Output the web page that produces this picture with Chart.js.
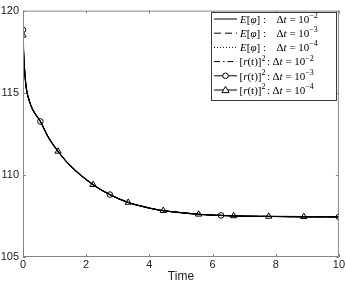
<!DOCTYPE html>
<html><head><meta charset="utf-8">
<script src="https://cdn.jsdelivr.net/npm/chart.js@4.4.1/dist/chart.umd.min.js"></script>
<style>html,body{margin:0;padding:0;background:#fff}#wrap{width:346px;height:285px}</style>
</head><body><div id="wrap"><canvas id="c"></canvas></div>
<script>
// ─── DATA ────────────────────────────────────────────────────
const tGrid=[0,0.02,0.05,0.1,0.2,0.3,0.55,0.8,1.11,1.5,2.22,2.75,3.33,4,4.44,5,5.56,6.27,6.67,7.78,8.89,10];
const energyVals=[118.8,117.4,116.4,115.35,114.5,114.0,113.25,112.3,111.43,110.55,109.4,108.8,108.32,107.98,107.82,107.7,107.6,107.53,107.5,107.47,107.45,107.44];
const circleT=[0,0.55,2.75,6.27,10];
const circleVals=[118.83,113.25,108.8,107.53,107.44];
const triT=[0,1.11,2.22,3.33,4.44,5.56,6.67,7.78,8.89];
const triVals=[118.5,111.43,109.4,108.32,107.82,107.6,107.5,107.47,107.45];
const xTicks=[0,2,4,6,8,10];
const yTicks=[105,110,115,120];
const xTitle='Time';
// legend rows: which quantity, exponent of the step
const legendNames=['E','E','E','r','r','r'];
const legendExp=['−2','−3','−4','−2','−3','−4'];

// ─── STYLE ───────────────────────────────────────────────────
const AX='#858585',TXT='#222',INK='#000';
const SANS='"Liberation Sans", Arial, sans-serif',SERIF='"Liberation Serif", "DejaVu Serif", serif';
const styles=[{d:[]},{d:[7,4]},{d:[1,2]},{d:[6,3,1.5,3]},{d:[],m:'circle'},{d:[],m:'triangle'}];

const pts=(xs,ys)=>xs.map((x,i)=>({x,y:ys[i]}));
const lineDs=(dash,w=1)=>({type:'line',data:pts(tGrid,energyVals),borderColor:INK,borderWidth:w,borderDash:dash,pointRadius:0,cubicInterpolationMode:'monotone',fill:false});

// ─── PLUGINS ─────────────────────────────────────────────────
// frame + inward ticks (MATLAB box on)
const frameTicks={id:'frameTicks',afterDatasetsDraw(chart){
  const {ctx,chartArea:a,scales:{x,y}}=chart;ctx.save();ctx.strokeStyle=AX;ctx.lineWidth=1;
  ctx.strokeRect(a.left+.5,a.top+.5,a.right-a.left-1,a.bottom-a.top-1);ctx.beginPath();
  xTicks.forEach(v=>{const p=Math.round(x.getPixelForValue(v))+.5;ctx.moveTo(p,a.bottom);ctx.lineTo(p,a.bottom-3);ctx.moveTo(p,a.top);ctx.lineTo(p,a.top+3)});
  yTicks.forEach(v=>{const p=Math.round(y.getPixelForValue(v))+.5;ctx.moveTo(a.left,p);ctx.lineTo(a.left+3,p);ctx.moveTo(a.right,p);ctx.lineTo(a.right-3,p)});
  ctx.stroke();ctx.restore()}};

function drawSegs(ctx,x,y,segs){segs.forEach(([t,s])=>{
  ctx.font=(s==='i'?'italic 11px ':s==='s'?'8px ':'11px ')+SERIF;ctx.fillText(t,x,s==='s'?y-4:y);x+=ctx.measureText(t).width});return x}
function marker(ctx,m,cx,cy){ctx.beginPath();
  if(m==='circle')ctx.arc(cx,cy,2.8,0,Math.PI*2);
  else{ctx.moveTo(cx,cy-3.6);ctx.lineTo(cx+3.6,cy+2.6);ctx.lineTo(cx-3.6,cy+2.6);ctx.closePath()}
  ctx.fillStyle='#fff';ctx.fill();ctx.stroke()}
const legendBox={id:'legendBox',afterDraw(chart){
  const ctx=chart.ctx;ctx.save();
  const L=211,T=12,W=125,H=88,dy=14.2,y0=19;
  ctx.fillStyle='#fff';ctx.fillRect(L,T,W,H);ctx.strokeStyle='#3a3a3a';ctx.lineWidth=1;ctx.strokeRect(L+.5,T+.5,W,H);
  legendNames.forEach((n,i)=>{const y=y0+i*dy,st=styles[i];
    ctx.strokeStyle=INK;ctx.setLineDash(st.d);ctx.beginPath();ctx.moveTo(214,y);ctx.lineTo(237,y);ctx.stroke();ctx.setLineDash([]);
    if(st.m)marker(ctx,st.m,225.5,y);
    ctx.fillStyle=INK;ctx.textBaseline='middle';ctx.textAlign='left';
    if(n==='E'){drawSegs(ctx,240,y+1,[['E','i'],['[','n'],['φ','i'],['] :','n']]);drawSegs(ctx,276.5,y+1,[['Δ','n'],['t','i'],[' = 10','n'],[legendExp[i],'s']])}
    else{const x=drawSegs(ctx,239.5,y+1,[['[','n'],['r','i'],['(t)]','n'],['2','s']]);drawSegs(ctx,x+1.5,y+1,[[':','n']]);drawSegs(ctx,272.5,y+1,[['Δ','n'],['t','i'],[' = 10','n'],[legendExp[i],'s']])}
  });
  ctx.restore()}};

// ─── CHART ───────────────────────────────────────────────────
new Chart(document.getElementById('c'),{
  data:{datasets:[
    lineDs([],1.3),lineDs([7,4]),lineDs([1,2]),lineDs([6,3,1.5,3]),lineDs([]),lineDs([]),
    {type:'scatter',data:pts(circleT,circleVals),pointStyle:'circle',pointRadius:2.8,borderColor:INK,borderWidth:1,backgroundColor:'rgba(0,0,0,0)'},
    {type:'scatter',data:pts(triT,triVals),pointStyle:'triangle',pointRadius:3.6,borderColor:INK,borderWidth:1,backgroundColor:'rgba(0,0,0,0)'}
  ]},
  options:{responsive:true,maintainAspectRatio:false,animation:false,devicePixelRatio:1,
    layout:{padding:{top:6,right:6,left:0,bottom:0}},
    plugins:{legend:{display:false},tooltip:{enabled:false}},
    scales:{
      x:{type:'linear',min:0,max:10,afterBuildTicks:s=>{s.ticks=xTicks.map(v=>({value:v}))},afterFit:s=>{s.height=28},
        grid:{display:false,drawTicks:false},border:{display:false},
        ticks:{padding:1,color:TXT,font:{family:SANS,size:11},maxRotation:0},
        title:{display:true,text:xTitle,color:TXT,font:{family:SANS,size:12},padding:{top:0,bottom:1}}},
      y:{type:'linear',min:105,max:120,afterBuildTicks:s=>{s.ticks=yTicks.map(v=>({value:v}))},afterFit:s=>{s.width=23},
        grid:{display:false,drawTicks:false},border:{display:false},
        ticks:{padding:4,color:TXT,font:{family:SANS,size:11}}}
    }},
  plugins:[frameTicks,legendBox]
});
</script></body></html>
